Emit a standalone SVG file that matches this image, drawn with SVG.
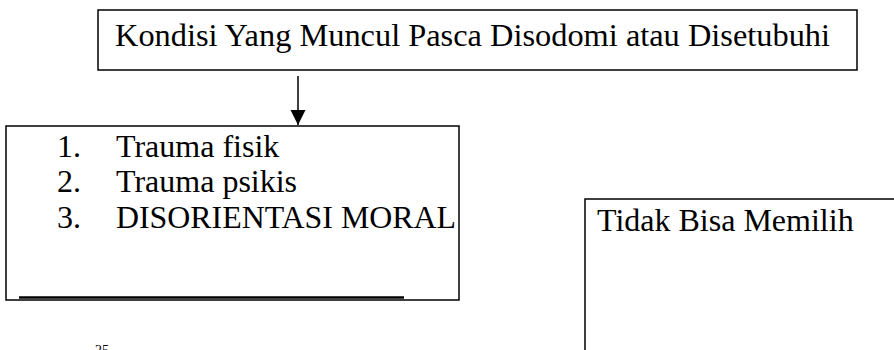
<svg xmlns="http://www.w3.org/2000/svg" width="894" height="350" viewBox="0 0 894 350">
<style>
.box{fill:#fff;stroke:#000;stroke-width:1.5}
.t{font-family:"Liberation Serif","Times New Roman",serif;font-size:32px;fill:#000}
.line{stroke:#000;stroke-width:1.5;fill:none}
</style>
<defs>
<marker id="ah" markerWidth="16" markerHeight="16" refX="15" refY="7.5" orient="auto" markerUnits="userSpaceOnUse">
<path d="M0,0 L15,7.5 L0,15 Z" fill="#000"/>
</marker>
</defs>
<rect width="894" height="350" fill="#fff"/>
<g id="connectors">
<line class="line" x1="298" y1="76" x2="298" y2="125" marker-end="url(#ah)"/>
</g>
<g id="kondisi">
<rect class="box" x="98" y="10" width="759" height="60"/>
<text class="t" x="115" y="46" textLength="715" lengthAdjust="spacingAndGlyphs">Kondisi Yang Muncul Pasca Disodomi atau Disetubuhi</text>
</g>
<g id="daftar">
<rect class="box" x="6" y="126" width="453" height="174"/>
<text class="t" x="57" y="157">1.</text>
<text class="t" x="116" y="157">Trauma fisik</text>
<text class="t" x="57" y="192">2.</text>
<text class="t" x="116" y="192">Trauma psikis</text>
<text class="t" x="57" y="228">3.</text>
<text class="t" x="116" y="228" textLength="340" lengthAdjust="spacingAndGlyphs">DISORIENTASI MORAL</text>
<line x1="19" y1="297.5" x2="404" y2="297.5" stroke="#000" stroke-width="2.5"/>
</g>
<g id="tidak-bisa-memilih">
<rect class="box" x="585" y="199" width="330" height="180"/>
<text class="t" x="597" y="231">Tidak Bisa Memilih</text>
</g>
<text x="95" y="355" font-family="Liberation Serif, serif" font-size="14" fill="#000">25</text>
</svg>
